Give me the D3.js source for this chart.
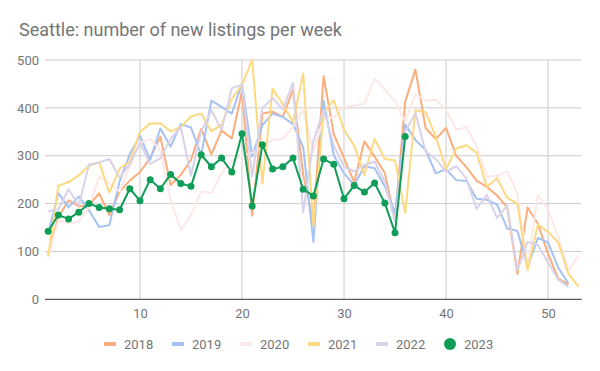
<!DOCTYPE html>
<html><head><meta charset="utf-8">
<script src="https://cdn.jsdelivr.net/npm/d3@7"></script>
<style>body{margin:0;background:#fff;} text{font-family:Roboto,"Noto Sans",sans-serif;}</style>
</head><body>
<svg id="c" width="600" height="371"></svg>
<script>
const title = "Seattle: number of new listings per week";
const yTicks = [0,100,200,300,400,500];
const xTicks = [10,20,30,40,50];
const seriesNames = ["2018","2019","2020","2021","2022","2023"];
const seriesColors = ["#fbad7c","#a4c2f4","#fce8e6","#fdd981","#d9d2e9","#0f9d58"];
const y2018 = [93,172,207,194,197,221,176,225,248,266,295,340,239,260,291,356,303,353,336,435,175,388,392,381,438,260,160,466,345,295,245,330,298,264,166,413,480,358,335,358,300,276,248,235,217,192,53,192,158,95,43,31];
const y2019 = [138,222,192,215,186,151,155,246,303,342,291,357,319,366,359,302,415,402,388,451,299,364,388,381,366,318,120,415,301,263,239,278,274,236,180,365,333,312,263,272,249,247,210,208,198,148,143,67,128,119,66,33];
const y2020 = [88,165,159,162,192,256,242,225,278,326,335,312,208,145,176,225,222,264,290,300,306,318,333,335,360,396,308,378,380,402,405,409,461,438,414,372,428,415,417,396,354,360,320,256,258,268,221,67,218,188,130,60,90];
const y2021 = [90,237,245,259,279,286,223,273,287,350,367,368,351,360,382,388,351,365,418,448,500,242,440,408,370,472,152,390,416,354,321,260,335,293,290,180,395,391,340,272,315,322,306,235,253,212,200,61,156,141,119,53,26];
const y2022 = [184,188,230,196,281,286,293,254,282,327,283,295,335,360,258,351,395,354,441,448,256,400,420,397,452,182,330,396,321,277,267,281,288,246,162,351,389,309,293,267,278,252,189,218,170,196,61,120,113,77,41,26];
const y2023 = [142,176,168,182,200,192,189,187,231,206,250,231,261,242,236,302,277,295,266,346,195,323,272,277,295,230,216,293,282,210,238,224,243,201,139,340];

const allSeries = [y2018,y2019,y2020,y2021,y2022,y2023];
const svg = d3.select("#c");
const L = 45, R = 581.7, T = 60, B = 299.3;
const x = d3.scaleLinear().domain([0.69, 53.3]).range([L, R]);
const y = d3.scaleLinear().domain([0, 500]).range([B, T]);

svg.append("text").attr("x",19).attr("y",36).attr("fill","#757575")
  .attr("font-size",18).text(title);

// grid
svg.append("g").selectAll("line").data(yTicks.filter(d=>d>0)).join("line")
  .attr("x1",L).attr("x2",R).attr("y1",d=>y(d)).attr("y2",d=>y(d))
  .attr("stroke","#cccccc").attr("stroke-width",1);
svg.append("g").selectAll("line").data(xTicks).join("line")
  .attr("x1",d=>x(d)).attr("x2",d=>x(d)).attr("y1",T).attr("y2",B)
  .attr("stroke","#cccccc").attr("stroke-width",1);

// y axis labels
const yAxis = d3.axisLeft(y).tickValues(yTicks).tickSize(0).tickPadding(6);
const gy = svg.append("g").attr("transform",`translate(${L},0)`).call(yAxis);
gy.select(".domain").remove();
gy.selectAll("text").attr("fill","#757575").attr("font-size",13).attr("font-family","Roboto");

const xAxis = d3.axisBottom(x).tickValues(xTicks).tickSize(0).tickPadding(9);
const gx = svg.append("g").attr("transform",`translate(0,${B})`).call(xAxis);
gx.select(".domain").remove();
gx.selectAll("text").attr("fill","#757575").attr("font-size",13).attr("font-family","Roboto");

// lines
const line = d3.line().x((d,i)=>x(i+1)).y(d=>y(d));
allSeries.forEach((s,k)=>{
  svg.append("path").datum(s).attr("d",line).attr("fill","none")
    .attr("stroke",seriesColors[k]).attr("stroke-width",2).attr("stroke-linejoin","round");
});
svg.append("g").selectAll("circle").data(y2023).join("circle")
  .attr("cx",(d,i)=>x(i+1)).attr("cy",d=>y(d)).attr("r",3.5).attr("fill",seriesColors[5]);

// baseline
svg.append("line").attr("x1",L).attr("x2",R).attr("y1",y(0)).attr("y2",y(0))
  .attr("stroke","#333333").attr("stroke-width",1);

// legend
const legX = [104,172,240,308,376,446];
const lg = svg.append("g");
seriesNames.forEach((n,k)=>{
  if(k<5){
    lg.append("rect").attr("x",legX[k]).attr("y",342).attr("width",12).attr("height",4).attr("fill",seriesColors[k]);
  } else {
    lg.append("circle").attr("cx",legX[k]+4).attr("cy",344).attr("r",6).attr("fill",seriesColors[k]);
  }
  lg.append("text").attr("x",k<5?legX[k]+20:legX[k]+18).attr("y",348.5).attr("fill","#757575")
    .attr("font-size",13).text(n);
});
</script>
</body></html>
